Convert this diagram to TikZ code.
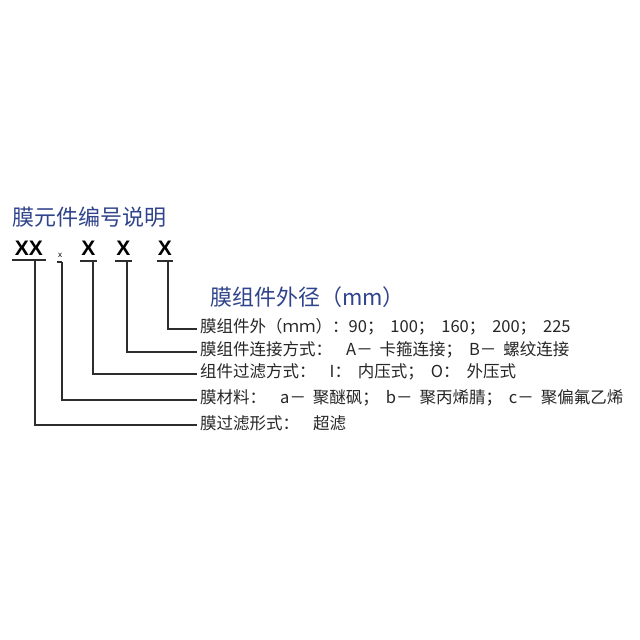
\documentclass[tikz,border=0pt]{standalone}
\usepackage{fontspec}
\newfontfamily\cjk{Noto Sans CJK SC}
\newfontfamily\codefont{Liberation Sans}
\usetikzlibrary{positioning}
\definecolor{titleblue}{RGB}{48,68,140}
\definecolor{linegray}{RGB}{45,45,45}
\newcommand{\colgap}{\hspace{0.85em}} % gap after the label colon
\newcommand{\sepgap}{\hspace{0.42em}} % gap after a dash or semicolon
\tikzset{x=1pt, y=-1pt,
heading/.style={ % Sets the properties for the blue headings
anchor=west, inner sep=0pt,
text=titleblue,
font=\cjk\fontsize{22}{26}\selectfont},
codeletter/.style={ % Sets the properties for each X of the code
anchor=base, inner sep=0pt,
font=\codefont\bfseries\fontsize{21}{24}\selectfont},
entry/.style={ % Sets the properties for each explanation line
anchor=west, inner xsep=3pt, inner ysep=0pt,
text=black!85,
font=\cjk\fontsize{16.5}{20}\selectfont},
leader/.style={ % Sets the properties for each connector
draw=linegray,
line width=1.1pt}}
\begin{document}
\begin{tikzpicture}
	\useasboundingbox[fill=white] (0,0) rectangle (640,640);
	\node[heading] (title) at (12,217) {膜元件编号说明};
	\node[codeletter] (xx) at (29,255) {XX};
	\node[codeletter, font=\codefont\fontsize{8}{9}\selectfont] (xs) at (60,257) {x};
	\node[codeletter] (xa) at (88.5,255) {X};
	\node[codeletter] (xb) at (123.5,255) {X};
	\node[codeletter] (xc) at (165,255) {X};
	\node[heading] (sub) at (210,297) {膜组件外径（mm）};
	\node[entry] (e1) at (197,327) {膜组件外（ｍｍ）：90；\sepgap 100；\sepgap 160；\sepgap 200；\sepgap 225};
	\node[entry] (e2) at (197,350) {膜组件连接方式：\colgap A－\sepgap 卡箍连接；\sepgap B－\sepgap 螺纹连接};
	\node[entry] (e3) at (197,372) {组件过滤方式：\colgap I：\sepgap 内压式；\sepgap O：\sepgap 外压式};
	\node[entry] (e4) at (197,398) {膜材料：\colgap a－\sepgap 聚醚砜；\sepgap b－\sepgap 聚丙烯腈；\sepgap c－\sepgap 聚偏氟乙烯};
	\node[entry] (e5) at (197,423) {膜过滤形式：\colgap 超滤};
	% underlines
	\coordinate (uxx) at (35,260);
	\coordinate (uxs) at (62,262);
	\coordinate (uxa) at (93,261);
	\coordinate (uxb) at (127,261);
	\coordinate (uxc) at (168,261);
	\draw[leader] (12,260) -- (46,260);
	\draw[leader] (57,262) -- (uxs);
	\draw[leader] (80,261) -- (97,261);
	\draw[leader] (115,261) -- (132,261);
	\draw[leader] (157,261) -- (173,261);
	% leaders to the lines
	\draw[leader] (uxc) |- ([yshift=-2pt]e1.west);
	\draw[leader] (uxb) |- ([yshift=-2pt]e2.west);
	\draw[leader] (uxa) |- ([yshift=-2pt]e3.west);
	\draw[leader] (uxs) |- ([yshift=-2pt]e4.west);
	\draw[leader] (uxx) |- ([yshift=-2pt]e5.west);
\end{tikzpicture}
\end{document}
